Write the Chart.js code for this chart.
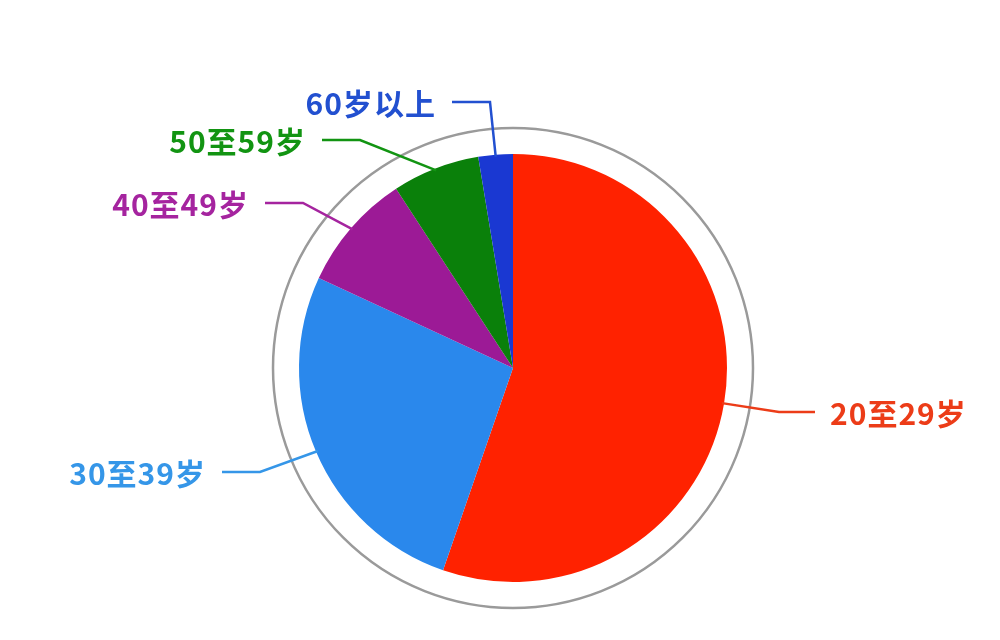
<!DOCTYPE html>
<html lang="zh">
<head>
<meta charset="UTF-8">
<title>年龄分布</title>
<script src="https://cdn.jsdelivr.net/npm/chart.js"></script>
<style>
html, body { margin:0; padding:0; background:#fff; }
#wrap { width:1000px; height:640px; position:relative; }
</style>
</head>
<body>
<div id="wrap"><canvas id="pie"></canvas></div>
<script>
// 数据
const labels = ['20至29岁', '30至39岁', '40至49岁', '50至59岁', '60岁以上'];
const values = [55.3, 26.6, 8.9, 6.6, 2.6];
const sliceColors = ['#ff2200', '#2a88ec', '#9c1a96', '#0a800a', '#1a38d2'];
const textColors = ['#ec3c18', '#3596e8', '#a5249f', '#129412', '#2250d0'];

// 引导线拐点相对圆心的偏移（避免上方标签互相重叠）
const elbowOffset = [[266, 44], [-253, 104], [-210, -165], [-153, -228], [-23, -266]];

// 外圈灰色圆环 + 引导线和标签
const pieDecor = {
  id: 'pieDecor',
  afterDatasetsDraw(chart) {
    const ctx = chart.ctx;
    const arcs = chart.getDatasetMeta(0).data;
    if (!arcs.length) return;
    const cx = arcs[0].x, cy = arcs[0].y, r = arcs[0].outerRadius;

    ctx.save();
    ctx.beginPath();
    ctx.arc(cx, cy, r + 26, 0, Math.PI * 2);
    ctx.strokeStyle = '#9a9a9a';
    ctx.lineWidth = 2.5;
    ctx.stroke();

    ctx.font = 'bold 30px "Noto Sans CJK SC", sans-serif';
    ctx.letterSpacing = '1px';
    ctx.textBaseline = 'middle';
    arcs.forEach((arc, i) => {
      const mid = (arc.startAngle + arc.endAngle) / 2;
      const dx = Math.cos(mid), dy = Math.sin(mid);
      const right = dx >= 0;
      const x0 = cx + dx * (r - 2), y0 = cy + dy * (r - 2);
      const x1 = cx + elbowOffset[i][0], y1 = cy + elbowOffset[i][1];
      const x2 = x1 + (right ? 36 : -38);
      ctx.beginPath();
      ctx.moveTo(x0, y0);
      ctx.lineTo(x1, y1);
      ctx.lineTo(x2, y1);
      ctx.strokeStyle = textColors[i];
      ctx.lineWidth = 2.5;
      ctx.stroke();
      ctx.fillStyle = textColors[i];
      ctx.textAlign = right ? 'left' : 'right';
      ctx.fillText(labels[i], x2 + (right ? 15 : -16), y1 + 2);
    });
    ctx.restore();
  }
};

new Chart(document.getElementById('pie'), {
  type: 'pie',
  data: {
    labels: labels,
    datasets: [{
      data: values,
      backgroundColor: sliceColors,
      borderWidth: 0
    }]
  },
  options: {
    responsive: true,
    maintainAspectRatio: false,
    animation: false,
    layout: { padding: { top: 154, bottom: 58, left: 299, right: 273 } },
    plugins: {
      legend: { display: false },
      tooltip: { enabled: false }
    }
  },
  plugins: [pieDecor]
});
</script>
</body>
</html>
